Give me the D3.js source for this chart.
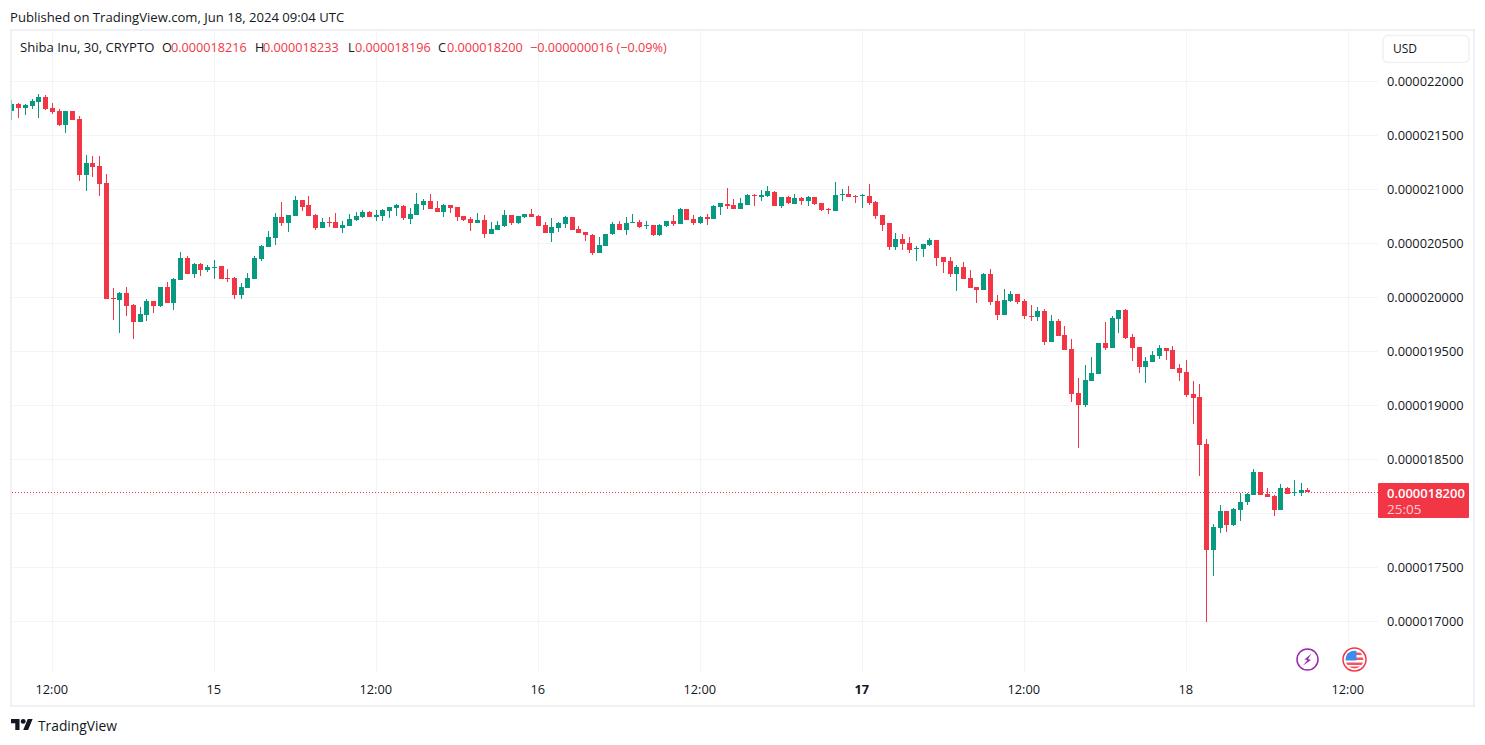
<!DOCTYPE html>
<html>
<head>
<meta charset="utf-8">
<title>Shiba Inu, 30, CRYPTO</title>
<script src="https://cdn.jsdelivr.net/npm/d3@7"></script>
<style>
  html, body { margin: 0; padding: 0; background: #fff; overflow: hidden; }
  text { font-family: "Open Sans", sans-serif; }
</style>
</head>
<body>
<div id="chart"></div>
<script>
// values in units of 0.000000001, 30 minute candles
var opens = [
  21726,21790,21753,21772,21809,21855,21753,21726,21596,21726,
  21651,21133,21244,21216,21059,19994,19976,20040,19929,19772,
  19837,19966,19920,20096,19948,20161,20364,20216,20309,20253,
  20272,20290,20179,20179,20022,20087,20170,20355,20466,20550,
  20744,20689,20753,20901,20855,20763,20642,20698,20698,20642,
  20660,20716,20744,20790,20744,20753,20799,20827,20846,20725,
  20762,20855,20892,20827,20790,20855,20836,20753,20725,20688,
  20716,20586,20623,20660,20762,20688,20744,20772,20753,20670,
  20596,20642,20679,20744,20633,20605,20577,20410,20475,20586,
  20679,20623,20688,20698,20660,20670,20577,20660,20707,20679,
  20818,20725,20688,20744,20725,20836,20864,20855,20818,20855,
  20948,20929,20938,20975,20846,20929,20864,20920,20892,20929,
  20873,20818,20799,20948,20957,20938,20938,20938,20883,20762,
  20688,20466,20540,20503,20448,20448,20485,20531,20373,20336,
  20216,20281,20179,20096,20068,20216,19966,19837,19966,20031,
  19966,19827,19818,19874,19587,19781,19652,19522,19115,19003,
  19226,19290,19577,19531,19800,19883,19633,19540,19355,19402,
  19457,19531,19513,19346,19309,19105,19077,18642,17660,17864,
  18021,17892,18031,18105,18169,18382,18179,18160,18031,18234,
  18188,18188,18216];
var highs = [
  21827,21797,21790,21837,21883,21874,21800,21744,21726,21726,
  21679,21318,21309,21309,21142,20087,20050,20096,19939,19911,
  19985,19966,20096,20142,20179,20420,20383,20318,20318,20300,
  20346,20290,20263,20189,20133,20226,20383,20485,20614,20781,
  20883,20763,20939,20901,20939,20772,20735,20744,20781,20707,
  20772,20790,20809,20799,20809,20818,20836,20864,20855,20827,
  20966,20910,20957,20892,20864,20855,20836,20753,20744,20781,
  20762,20698,20707,20809,20762,20753,20772,20818,20762,20698,
  20735,20698,20753,20744,20660,20605,20586,20559,20586,20698,
  20707,20744,20772,20716,20707,20670,20679,20707,20762,20827,
  20818,20762,20753,20772,20855,20873,21012,20910,20920,20957,
  20957,20994,21031,20985,20929,20938,20957,20929,20938,20929,
  20873,20827,21068,21003,21031,20948,20957,21049,20892,20762,
  20688,20596,20586,20559,20475,20494,20549,20531,20373,20373,
  20299,20327,20253,20096,20225,20262,20022,20077,20059,20031,
  19985,19929,19911,19892,19837,19800,19735,19615,19253,19374,
  19448,19577,19772,19827,19883,19892,19661,19540,19448,19503,
  19559,19531,19550,19383,19420,19226,19197,18688,17901,18077,
  18021,18049,18188,18188,18410,18382,18234,18169,18271,18243,
  18308,18281,18233];
var lows = [
  21642,21661,21689,21744,21661,21735,21698,21587,21522,21642,
  21077,20985,21114,20939,19985,19790,19670,19827,19615,19772,
  19781,19855,19911,19948,19883,20161,20216,20179,20198,20235,
  20170,20170,20142,19985,19985,20087,20170,20337,20466,20485,
  20661,20605,20753,20800,20753,20624,20642,20651,20642,20596,
  20660,20707,20735,20744,20707,20707,20735,20753,20716,20679,
  20762,20809,20818,20790,20744,20781,20707,20707,20614,20688,
  20549,20586,20623,20651,20670,20679,20735,20744,20660,20596,
  20512,20605,20642,20623,20596,20522,20392,20410,20475,20577,
  20623,20577,20688,20642,20633,20568,20568,20651,20660,20679,
  20716,20670,20679,20670,20725,20762,20818,20818,20818,20855,
  20846,20892,20929,20846,20827,20864,20864,20855,20846,20855,
  20799,20772,20799,20892,20929,20873,20827,20855,20725,20614,
  20438,20438,20438,20410,20336,20373,20475,20290,20225,20188,
  20059,20170,20086,19948,20068,19929,19790,19837,19957,19939,
  19800,19781,19781,19559,19587,19642,19513,19031,18605,18985,
  19226,19290,19513,19531,19670,19615,19411,19300,19207,19402,
  19429,19420,19337,19226,19077,18828,18345,17000,17419,17818,
  17827,17882,17929,18077,18169,18169,18151,17975,18031,18179,
  18160,18160,18196];
var closes = [
  21790,21753,21781,21818,21855,21744,21716,21596,21726,21642,
  21133,21244,21207,21050,19985,19985,20040,19920,19772,19846,
  19966,19920,20096,19948,20170,20364,20216,20309,20253,20281,
  20281,20170,20170,20022,20096,20179,20364,20476,20559,20744,
  20689,20763,20901,20837,20753,20642,20698,20689,20642,20670,
  20725,20753,20790,20744,20762,20809,20836,20855,20735,20772,
  20864,20892,20818,20790,20855,20827,20744,20716,20688,20716,
  20586,20633,20670,20762,20688,20753,20772,20744,20660,20596,
  20651,20688,20744,20623,20596,20577,20410,20485,20586,20679,
  20623,20688,20698,20651,20670,20577,20670,20707,20679,20818,
  20716,20688,20744,20725,20846,20873,20846,20818,20873,20948,
  20938,20948,20985,20846,20929,20873,20920,20892,20929,20864,
  20809,20809,20948,20957,20929,20929,20948,20873,20753,20670,
  20466,20540,20494,20438,20457,20494,20531,20364,20327,20216,
  20281,20170,20086,20068,20216,19957,19836,19976,20031,19957,
  19827,19818,19874,19587,19781,19642,19513,19105,19003,19235,
  19300,19577,19531,19809,19883,19624,19531,19355,19411,19466,
  19531,19503,19337,19300,19096,19068,18632,17660,17873,18021,
  17892,18040,18105,18179,18382,18169,18151,18031,18234,18179,
  18197,18216,18200];

var priceTicks = [22000, 21500, 21000, 20500, 20000, 19500, 19000, 18500, 18000, 17500, 17000];
var lastPrice = 18200;
var timeTicks = [6, 30, 54, 78, 102, 126, 150, 174, 198]; // candle number of each label
var timeLabels = ["12:00", "15", "12:00", "16", "12:00", "17", "12:00", "18", "12:00"];

var green = "#089981", red = "#f23645", ink = "#131722", gridColor = "#f3f4f7", frameColor = "#f0f1f7";
var width = 1485, height = 745;
var plotLeft = 12, plotRight = 1378, plotTop = 31, plotBottom = 673;

var x = d3.scaleLinear().domain([0, 192]).range([11.75, 1307.75]);
var y = d3.scaleLinear().domain([22000, 17000]).range([81.5, 621.5]);

var svg = d3.select("#chart").append("svg")
    .attr("width", width)
    .attr("height", height)
    .style("display", "block");

svg.append("text").attr("x", 10).attr("y", 22)
    .attr("font-size", 13.1).attr("fill", ink)
    .text("Published on TradingView.com, Jun 18, 2024 09:04 UTC");

// frame round the chart
svg.append("rect")
    .attr("x", 11).attr("y", 30)
    .attr("width", 1463).attr("height", 676)
    .attr("fill", "none").attr("stroke", frameColor).attr("stroke-width", 2);

// grid
svg.append("g").selectAll("line")
    .data(priceTicks)
    .enter().append("line")
    .attr("x1", plotLeft).attr("x2", plotRight)
    .attr("y1", function(d) { return y(d); })
    .attr("y2", function(d) { return y(d); })
    .attr("stroke", gridColor);

svg.append("g").selectAll("line")
    .data(timeTicks)
    .enter().append("line")
    .attr("x1", function(d) { return Math.floor(x(d)) + 0.5; })
    .attr("x2", function(d) { return Math.floor(x(d)) + 0.5; })
    .attr("y1", plotTop).attr("y2", plotBottom)
    .attr("stroke", gridColor);

// last price line
svg.append("line")
    .attr("x1", plotLeft).attr("x2", plotRight)
    .attr("y1", Math.round(y(lastPrice)) + 0.5)
    .attr("y2", Math.round(y(lastPrice)) + 0.5)
    .attr("stroke", red).attr("stroke-dasharray", "1,2");

// candles
svg.append("clipPath").attr("id", "wickClip").append("rect")
    .attr("x", 11).attr("y", plotTop).attr("width", plotRight - 11).attr("height", plotBottom - plotTop);
svg.append("clipPath").attr("id", "bodyClip").append("rect")
    .attr("x", plotLeft).attr("y", plotTop).attr("width", plotRight - plotLeft).attr("height", plotBottom - plotTop);

function candleColor(i) { return closes[i] >= opens[i] ? green : red; }
function column(i) { return Math.floor(x(i)); }

svg.append("g").attr("clip-path", "url(#wickClip)")
    .attr("shape-rendering", "crispEdges")
    .selectAll("rect")
    .data(d3.range(opens.length))
    .enter().append("rect")
    .attr("x", column)
    .attr("width", 1)
    .attr("y", function(i) { return Math.round(y(highs[i])); })
    .attr("height", function(i) { return Math.max(1, Math.round(y(lows[i])) - Math.round(y(highs[i]))); })
    .attr("fill", candleColor);

svg.append("g").attr("clip-path", "url(#bodyClip)")
    .attr("shape-rendering", "crispEdges")
    .selectAll("rect")
    .data(d3.range(opens.length))
    .enter().append("rect")
    .attr("x", function(i) { return column(i) - 2; })
    .attr("width", 5)
    .attr("y", function(i) { return Math.round(y(Math.max(opens[i], closes[i]))); })
    .attr("height", function(i) {
        return Math.max(1, Math.round(y(Math.min(opens[i], closes[i]))) - Math.round(y(Math.max(opens[i], closes[i]))));
    })
    .attr("fill", candleColor);

// the first wick sits under the frame
svg.append("rect").attr("x", 11).attr("y", 31).attr("width", 1).attr("height", 120)
    .attr("fill", frameColor).attr("opacity", 0.55);

// price scale
var priceAxis = d3.axisRight(y)
    .tickValues(priceTicks.filter(function(d) { return d !== 18000; }))
    .tickSize(0).tickPadding(0)
    .tickFormat(function(d) { return (d / 1e9).toFixed(9); });

svg.append("g").attr("transform", "translate(1387,0)").call(priceAxis)
    .call(function(g) { g.select(".domain").remove(); })
    .selectAll("text")
    .attr("font-size", 12.8).attr("fill", ink).style("font-family", '"Open Sans", sans-serif');

// time scale
var timeAxis = d3.axisBottom(x)
    .tickValues(timeTicks)
    .tickSize(0).tickPadding(0)
    .tickFormat(function(d, i) { return timeLabels[i]; });

svg.append("g").attr("transform", "translate(-1,685)").call(timeAxis)
    .call(function(g) { g.select(".domain").remove(); })
    .selectAll("text")
    .attr("font-size", 12.8).attr("fill", ink)
    .attr("font-weight", function(d, i) { return timeLabels[i] === "17" ? 700 : 400; })
    .style("font-family", '"Open Sans", sans-serif');

// legend line
var legend = [
    {x: 20, t: "Shiba Inu, 30, CRYPTO", s: 13.1, c: ink},
    {x: 162, t: "O", s: 12.7, c: ink},
    {x: 171, t: "0.000018216", s: 12.7, c: red},
    {x: 255, t: "H", s: 12.7, c: ink},
    {x: 263, t: "0.000018233", s: 12.7, c: red},
    {x: 348, t: "L", s: 12.7, c: ink},
    {x: 355, t: "0.000018196", s: 12.7, c: red},
    {x: 438, t: "C", s: 12.7, c: ink},
    {x: 447, t: "0.000018200", s: 12.7, c: red},
    {x: 530, t: "\u22120.000000016 (\u22120.09%)", s: 12.7, c: red}
];
svg.append("g").selectAll("text")
    .data(legend)
    .enter().append("text")
    .attr("x", function(d) { return d.x; })
    .attr("y", 52)
    .attr("font-size", function(d) { return d.s; })
    .attr("fill", function(d) { return d.c; })
    .text(function(d) { return d.t; });

// currency button
svg.append("rect")
    .attr("x", 1383).attr("y", 35.5).attr("width", 86).attr("height", 27).attr("rx", 5)
    .attr("fill", "#fff").attr("stroke", frameColor).attr("stroke-width", 1.5);
svg.append("text").attr("x", 1393).attr("y", 53)
    .attr("font-size", 12).attr("fill", ink).text("USD");

// last price tag
svg.append("rect")
    .attr("x", plotRight).attr("y", 483).attr("width", 91).attr("height", 35).attr("rx", 1)
    .attr("fill", red);
svg.append("text").attr("x", 1387).attr("y", 498)
    .attr("font-size", 13).attr("font-weight", 600).attr("fill", "#fff")
    .text((lastPrice / 1e9).toFixed(9));
svg.append("text").attr("x", 1387).attr("y", 514)
    .attr("font-size", 13.5).attr("fill", "#fff").attr("fill-opacity", 0.75)
    .text("25:05");

// lightning badge
var bolt = svg.append("g").attr("transform", "translate(1307.5,659.5)");
bolt.append("circle").attr("r", 10.5).attr("fill", "#fff").attr("stroke", "#9c27b0").attr("stroke-width", 1.5);
bolt.append("path").attr("d", "M4,-6 L-3,0 L0,0.5 L-4.5,6 L3.5,0.5 L0.5,-0.5 Z").attr("fill", "#9c27b0");

// flag badge
var flag = svg.append("g").attr("transform", "translate(1354.5,659.5)");
svg.append("clipPath").attr("id", "flagClip").append("circle").attr("r", 9);
flag.append("circle").attr("r", 11.5).attr("fill", "#fff").attr("stroke", red).attr("stroke-width", 1.5);
var flagArt = flag.append("g").attr("clip-path", "url(#flagClip)");
flagArt.selectAll("rect.stripe")
    .data([-7, -2, 3, 7])
    .enter().append("rect").attr("class", "stripe")
    .attr("x", -9).attr("width", 18)
    .attr("y", function(d) { return d; }).attr("height", 2.5)
    .attr("fill", "#f7525f");
flagArt.append("rect").attr("x", -9).attr("y", -9).attr("width", 11).attr("height", 10).attr("fill", "#3d8bed");

// logo
var logo = svg.append("g").attr("transform", "translate(11,716.5) scale(0.61)");
logo.append("path").attr("d", "M14 22H7V11H0V4h14v18zM28 22h-8l7.5-18h8L28 22z").attr("fill", ink);
logo.append("circle").attr("cx", 20).attr("cy", 8).attr("r", 4).attr("fill", ink);
svg.append("text").attr("x", 38).attr("y", 731)
    .attr("font-size", 13.8).attr("fill", ink).text("TradingView");
</script>
</body>
</html>
